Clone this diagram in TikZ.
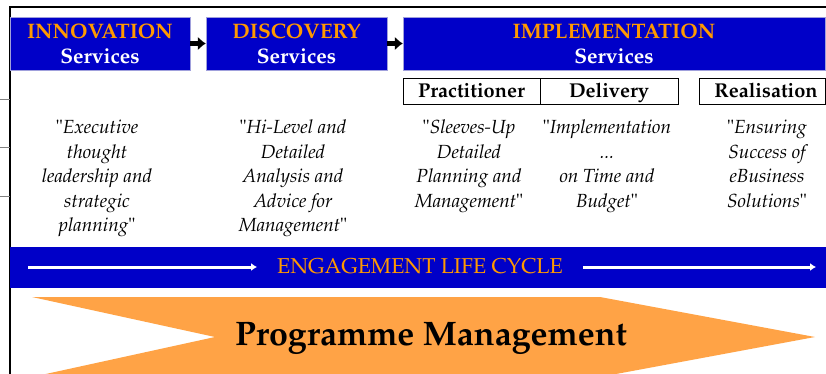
\documentclass[tikz,border=0pt]{standalone}
\usepackage[T1]{fontenc}
\usepackage{mathpazo}
\usepackage{tikz}
\usetikzlibrary{arrows.meta,positioning}

\definecolor{bandblue}{RGB}{0,0,200}
\definecolor{headorange}{RGB}{255,153,0}
\definecolor{chevron}{RGB}{255,163,70}
\definecolor{boxedge}{RGB}{160,160,220}

\newcommand{\headfont}{\fontsize{21}{25}\selectfont\bfseries}
\newcommand{\rolefont}{\fontsize{20}{24}\selectfont\bfseries}
\newcommand{\quotefont}{\fontsize{19}{24.5}\selectfont\itshape}
\newcommand{\cyclefont}{\fontsize{21.5}{25}\selectfont}
\newcommand{\progfont}{\fontsize{34}{40}\selectfont\bfseries}

\tikzset{%
	svcbox/.style   = {fill=bandblue, draw=boxedge, rectangle, minimum height=53pt, inner sep=0pt, align=center, font=\headfont},
	rolebox/.style  = {draw, rectangle, minimum height=26pt, inner sep=0pt, text height=15pt, text depth=2pt, font=\rolefont},
	quote/.style    = {anchor=north, inner sep=0pt, align=center, font=\quotefont},
	boxarrow/.style = {line width=5pt, -{Latex[length=8pt,width=14pt]}},
	bandarrow/.style= {white, line width=3pt, -{Latex[length=6pt,width=8pt]}},
}

\begin{document}
\begin{tikzpicture}[x=1pt,y=-1pt]
	\useasboundingbox (0,0) rectangle (826,374);
	% frame
	\draw[line width=1.5pt] (10,374) -- (10,7) -- (826,7);
	\foreach \y in {99,147,196}
		\draw[gray] (0,\y) -- (10,\y);
	% service boxes
	\node[svcbox, minimum width=180pt] (innov) at (100,43.5) {\color{headorange}INNOVATION\\\color{white}Services};
	\node[svcbox, minimum width=181pt] (disc) at (296.5,43.5) {\color{headorange}DISCOVERY\\\color{white}Services};
	\node[svcbox, minimum width=422pt] (impl) at (614,43.5) {\color{headorange}IMPLEMENTATION\\\color{white}Services};
	\draw[boxarrow] (innov) -- (disc);
	\draw[boxarrow] (disc) -- (impl);
	% roles under implementation
	\node[rolebox, minimum width=137pt] (prac) at (471.5,91) {Practitioner};
	\node[rolebox, minimum width=138pt] (deliv) at (609,91) {Delivery};
	\node[rolebox, minimum width=126pt] (real) at (762,91) {\hspace{8pt}Realisation};
	% descriptions
	\node[quote] (q1) at (97,120) {{\upshape"}Executive\\thought\\leadership and\\strategic\\planning{\upshape"}};
	\node[quote] (q2) at (293,120) {{\upshape"}Hi-Level and\\Detailed\\Analysis and\\Advice for\\Management{\upshape"}};
	\node[quote] (q3) at (469,120) {{\upshape"}Sleeves-Up\\Detailed\\Planning and\\Management{\upshape"}};
	\node[quote] (q4) at (607,120) {{\upshape"}Implementation\\...\\on Time and\\Budget{\upshape"}};
	\node[quote] (q5) at (767,120) {{\upshape"}Ensuring\\Success of\\eBusiness\\Solutions{\upshape"}};
	% life cycle band
	\fill[bandblue] (10,247) rectangle (826,288);
	\node[anchor=base, inner xsep=20pt, text=headorange, font=\cyclefont] (life) at (420,273) {ENGAGEMENT LIFE CYCLE};
	\coordinate (lcs) at (28,267);
	\coordinate (rce) at (816,267);
	\draw[bandarrow] (lcs) -- (lcs -| life.west);
	\draw[bandarrow] (rce -| life.east) -- (rce);
	% programme chevron
	\fill[chevron] (32,297) -- (600,297) -- (815,337) -- (600,377) -- (32,377) -- (215,337) -- cycle;
	\node[anchor=base, inner sep=0pt, font=\progfont] (prog) at (431,345) {Programme Management};
\end{tikzpicture}
\end{document}
